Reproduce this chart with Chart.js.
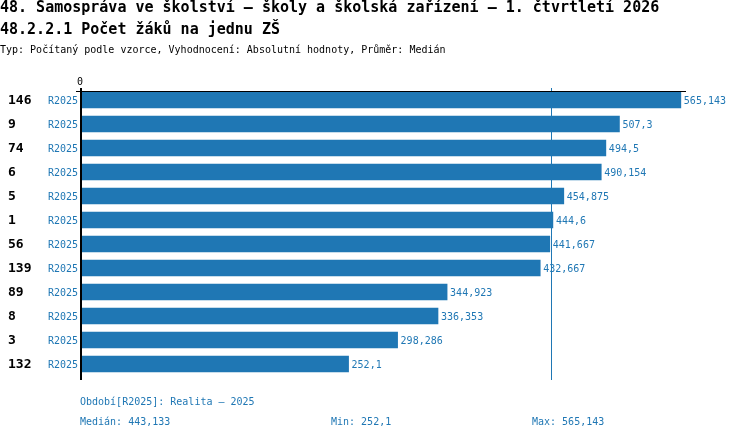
<!DOCTYPE html>
<html>
<head>
<meta charset="utf-8">
<script src="https://cdn.jsdelivr.net/npm/chart.js@4.4.1/dist/chart.umd.min.js"></script>
<style>
  html, body { margin: 0; padding: 0; background: #fff; }
  #wrap { position: relative; width: 750px; height: 440px; overflow: hidden; font-family: "DejaVu Sans Mono", monospace; }
  #wrap canvas { position: absolute; left: 0; top: 0; }
  .t { position: absolute; white-space: pre; line-height: 1; }
  .h1 { font-size: 15px; font-weight: bold; color: #000; left: 0; }
  .sub { font-size: 10px; color: #000; left: 0; }
  .foot { font-size: 10px; color: #1f77b4; }
</style>
</head>
<body>
<div id="wrap">
  <canvas id="c" width="750" height="440"></canvas>
  <div class="t h1" style="top:0px">48. Samospráva ve školství – školy a školská zařízení – 1. čtvrtletí 2026</div>
  <div class="t h1" style="top:22px">48.2.2.1 Počet žáků na jednu ZŠ</div>
  <div class="t sub" style="top:45px">Typ: Počítaný podle vzorce, Vyhodnocení: Absolutní hodnoty, Průměr: Medián</div>
  <div class="t foot" style="left:80px; top:397px">Období[R2025]: Realita – 2025</div>
  <div class="t foot" style="left:80px; top:417px">Medián: 443,133</div>
  <div class="t foot" style="left:331px; top:417px">Min: 252,1</div>
  <div class="t foot" style="left:532px; top:417px">Max: 565,143</div>
</div>
<script>
const unitIds = ["146", "9", "74", "6", "5", "1", "56", "139", "89", "8", "3", "132"];
const periodLabels = ["R2025", "R2025", "R2025", "R2025", "R2025", "R2025", "R2025", "R2025", "R2025", "R2025", "R2025", "R2025"];
const values = [565.143, 507.3, 494.5, 490.154, 454.875, 444.6, 441.667, 432.667, 344.923, 336.353, 298.286, 252.1];
const median = 443.133;
const axisTicks = [0];

const BLUE = "#1f77b4";
const FONT = '"DejaVu Sans Mono", monospace';
const fmt = v => String(v).replace(".", ",");

const overlay = {
  id: "overlay",
  beforeDatasetsDraw(chart) {
    const { ctx, chartArea, scales } = chart;
    const x = Math.round(scales.x.getPixelForValue(median)) + 0.5;
    ctx.save();
    ctx.strokeStyle = BLUE;
    ctx.lineWidth = 1;
    ctx.beginPath();
    ctx.moveTo(x, chartArea.top);
    ctx.lineTo(x, chartArea.bottom + 4);
    ctx.stroke();
    ctx.restore();
  },
  afterDatasetsDraw(chart) {
    const { ctx, chartArea, scales } = chart;
    const xs = scales.x, ys = scales.y;
    const x0 = xs.getPixelForValue(0);
    ctx.save();
    // axis lines
    ctx.fillStyle = "#000";
    ctx.fillRect(x0 - 1, chartArea.top, 2, chartArea.bottom + 4 - chartArea.top);
    ctx.fillRect(x0 - 5, chartArea.top + 3, chartArea.right - x0 + 5, 1);
    // tick labels on top
    ctx.font = "10px " + FONT;
    ctx.textAlign = "center";
    ctx.textBaseline = "middle";
    axisTicks.forEach(t => ctx.fillText(String(t), xs.getPixelForValue(t) - 1, chartArea.top - 6));
    // row labels and values
    values.forEach((v, i) => {
      const y = ys.getPixelForValue(i);
      ctx.font = "bold 13px " + FONT;
      ctx.fillStyle = "#000";
      ctx.textAlign = "left";
      ctx.fillText(unitIds[i], 8, y + 1);
      ctx.font = "10px " + FONT;
      ctx.fillStyle = BLUE;
      ctx.textAlign = "right";
      ctx.fillText(periodLabels[i], 78, y + 1);
      ctx.textAlign = "left";
      ctx.fillText(fmt(v), xs.getPixelForValue(v) + 3, y + 1);
    });
    ctx.restore();
  }
};

new Chart(document.getElementById("c"), {
  type: "bar",
  data: {
    labels: unitIds,
    datasets: [{
      data: values,
      backgroundColor: BLUE,
      borderWidth: 0,
      barThickness: 16
    }]
  },
  options: {
    indexAxis: "y",
    responsive: false,
    animation: false,
    devicePixelRatio: 1,
    layout: { padding: { left: 81, right: 64, top: 88, bottom: 64 } },
    scales: {
      x: { display: false, min: 0, max: 570 },
      y: { display: false }
    },
    plugins: {
      legend: { display: false },
      tooltip: { enabled: false },
      title: { display: false }
    }
  },
  plugins: [overlay]
});
</script>
</body>
</html>
